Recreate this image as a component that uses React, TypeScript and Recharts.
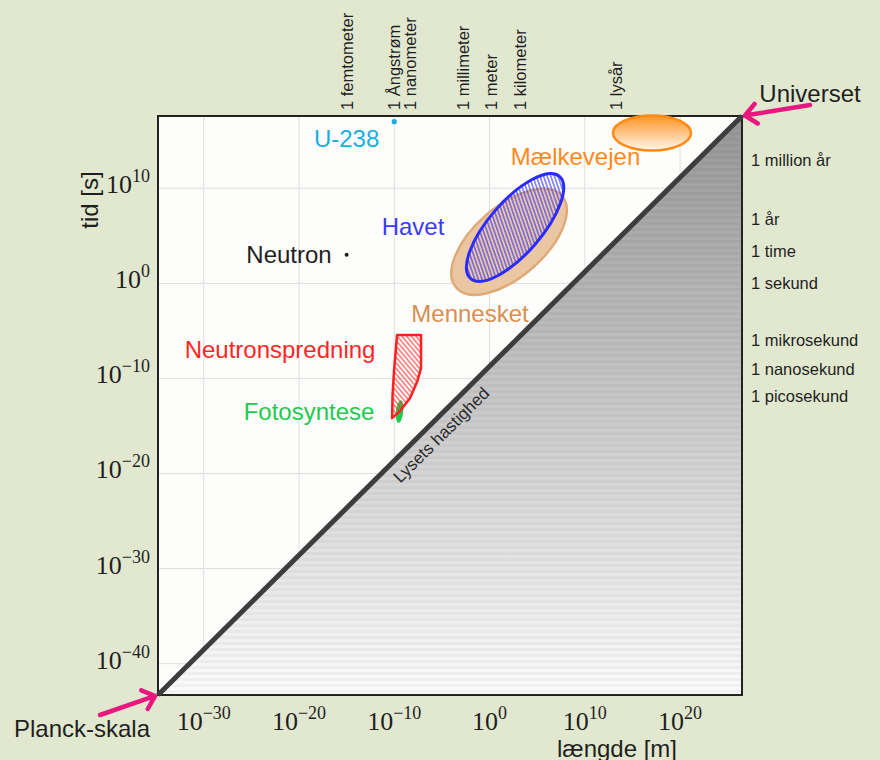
import { ComposedChart, XAxis, YAxis, CartesianGrid, Area, Line, Scatter, ReferenceArea } from 'recharts';

document.body.style.margin = '0';
document.body.style.background = '#e2e8cf';

const SANS = "'Liberation Sans', Arial, Helvetica, sans-serif";
const SERIF = "'Liberation Serif', 'Times New Roman', serif";
const INK = '#1f1f1f';

const W = 880;
const H = 760;
const MARGIN = { top: 16, right: 8, bottom: 25, left: 98 };
const LEFT_W = 60;
const RIGHT_W = 130;
const TOP_H = 100;
const BOTTOM_H = 40;

// log10 of length [m] and time [s]
const X_DOMAIN: [number, number] = [-34.8, 26.5];
const T_DOMAIN: [number, number] = [-43.3, 17.6];

const PLOT_W = W - MARGIN.left - MARGIN.right - LEFT_W - RIGHT_W;
const PLOT_H = H - MARGIN.top - MARGIN.bottom - TOP_H - BOTTOM_H;
const PX_X = PLOT_W / (X_DOMAIN[1] - X_DOMAIN[0]);
const PX_T = PLOT_H / (T_DOMAIN[1] - T_DOMAIN[0]);

const lengthTicks = [-30, -20, -10, 0, 10, 20];
const timeTicks = [-40, -30, -20, -10, 0, 10];

const lengthUnitValues = [-15, -10, -8.3, -2.8, 0.2, 3.2, 13.3];
const lengthUnitLabels = ['1 femtometer', '1 Ångstrøm', '1 nanometer', '1 millimeter', '1 meter', '1 kilometer', '1 lysår'];

const timeUnitValues = [13, 6.8, 3.45, 0, -6, -9, -11.9];
const timeUnitLabels = ['1 million år', '1 år', '1 time', '1 sekund', '1 mikrosekund', '1 nanosekund', '1 picosekund'];

const lightSpeed = [
  { x: -34.8, t: -43.3 },
  { x: 26.5, t: 17.6 },
];

const endpoints = [
  { name: 'Planck-skala', x: -34.8, t: -43.3 },
  { name: 'Universet', x: 26.5, t: 17.6 },
];

const pointObjects = [
  { name: 'U-238', x: -10, t: 17.0 },
  { name: 'Neutron', x: -15, t: 3.0 },
];

// centre, half-extent along the tilted axes (decades), tilt in degrees
const regionObjects = [
  { name: 'Mennesket', x: 2.05, t: 4.38, major: 7.35, minor: 3.7, tilt: 41 },
  { name: 'Havet', x: 2.68, t: 5.87, major: 7.1, minor: 2.75, tilt: 49 },
  { name: 'Mælkevejen', x: 17.05, t: 15.8, major: 4.1, minor: 1.84, tilt: 0 },
  { name: 'Fotosyntese', x: -9.44, t: -13.5, major: 1.2, minor: 0.38, tilt: 84 },
];

const neutronScattering = [
  { x: -9.71, t: -5.44 },
  { x: -7.19, t: -5.44 },
  { x: -7.19, t: -8.92 },
  { x: -7.61, t: -10.39 },
  { x: -8.34, t: -12.07 },
  { x: -9.39, t: -13.44 },
  { x: -10.23, t: -14.18 },
  { x: -10.18, t: -11.76 },
  { x: -10.02, t: -9.13 },
];

const objectLabels = [
  { name: 'U-238', x: -15.0, t: 15.26 },
  { name: 'Neutron', x: -21.05, t: 2.98 },
  { name: 'Havet', x: -8.03, t: 5.95 },
  { name: 'Mennesket', x: -2.05, t: -3.16 },
  { name: 'Mælkevejen', x: 9.03, t: 13.32 },
  { name: 'Neutronspredning', x: -21.99, t: -6.91 },
  { name: 'Fotosyntese', x: -18.95, t: -13.43 },
  { name: 'Lysets hastighed', x: -5.04, t: -15.96 },
];

const COLOR: Record<string, string> = {
  'U-238': '#1aaee5',
  Neutron: INK,
  Havet: '#3b3bff',
  Mennesket: '#d98f52',
  Mælkevejen: '#ff8a1c',
  Neutronspredning: '#ff2626',
  Fotosyntese: '#1fca4f',
  'Lysets hastighed': '#2a2a2a',
};

const REGION_STYLE: Record<string, any> = {
  Mennesket: { fill: '#ebc6a2', stroke: '#e0aa78', strokeWidth: 2.5 },
  Havet: { fill: 'url(#hatchBlue)', stroke: '#2b2bff', strokeWidth: 3 },
  Mælkevejen: { fill: 'url(#milky)', stroke: '#ff8a14', strokeWidth: 2.5 },
  Fotosyntese: { fill: '#1fca4f', stroke: 'none', strokeWidth: 0 },
};

const ARROW: Record<string, { tail: [number, number]; text: [number, number] }> = {
  'Planck-skala': { tail: [-58, 20], text: [-76, 33] },
  Universet: { tail: [68, -11], text: [68, -23] },
};

const power = (e: number) => (e === 0 ? '0' : (e < 0 ? '\u2212' : '') + Math.abs(e));

function LengthTick({ x, y, payload }: any) {
  return (
    <text x={x} y={y + 35} textAnchor="middle" fontFamily={SERIF} fontSize={26} fill={INK}>
      <tspan>10</tspan>
      <tspan dy={-11} fontSize={18}>{power(payload.value)}</tspan>
    </text>
  );
}

function TimeTick({ x, y, payload }: any) {
  return (
    <text x={x} y={y + 5} textAnchor="end" fontFamily={SERIF} fontSize={26} fill={INK}>
      <tspan>10</tspan>
      <tspan dy={-11} fontSize={18}>{power(payload.value)}</tspan>
    </text>
  );
}

function LengthUnitTick({ x, y, payload }: any) {
  const label = lengthUnitLabels[lengthUnitValues.indexOf(payload.value)];
  return (
    <text x={x} y={y} transform={`rotate(-90 ${x} ${y})`} dominantBaseline="central" fontFamily={SANS} fontSize={16.5} fill={INK}>
      {label}
    </text>
  );
}

function TimeUnitTick({ x, y, payload }: any) {
  const label = timeUnitLabels[timeUnitValues.indexOf(payload.value)];
  return (
    <text x={x} y={y} dominantBaseline="central" fontFamily={SANS} fontSize={16.5} fill={INK}>
      {label}
    </text>
  );
}

function XTitle({ viewBox }: any) {
  return (
    <text x={viewBox.x + 459} y={viewBox.y + 53} textAnchor="middle" dominantBaseline="central" fontFamily={SANS} fontSize={24} fill={INK}>
      længde [m]
    </text>
  );
}

function YTitle({ viewBox }: any) {
  const x = viewBox.x - 9;
  const y = viewBox.y + 84;
  return (
    <text x={x} y={y} transform={`rotate(-90 ${x} ${y})`} textAnchor="middle" dominantBaseline="central" fontFamily={SANS} fontSize={24} fill={INK}>
      tid [s]
    </text>
  );
}

function RegionShape({ cx, cy, payload }: any) {
  const st = REGION_STYLE[payload.name];
  return (
    <ellipse
      cx={cx}
      cy={cy}
      rx={payload.major * PX_X}
      ry={payload.minor * PX_T}
      transform={`rotate(${-payload.tilt} ${cx} ${cy})`}
      {...st}
    />
  );
}

function DotShape({ cx, cy, payload }: any) {
  return <circle cx={cx} cy={cy} r={payload.name === 'U-238' ? 2.6 : 2} fill={COLOR[payload.name]} />;
}

function LabelShape({ cx, cy, payload }: any) {
  const tilted = payload.name === 'Lysets hastighed';
  const angle = (-Math.atan2(PLOT_H, PLOT_W) * 180) / Math.PI;
  return (
    <text
      x={cx}
      y={cy}
      textAnchor="middle"
      dominantBaseline="central"
      transform={tilted ? `rotate(${angle} ${cx} ${cy})` : undefined}
      fontFamily={SANS}
      fontSize={tilted ? 17 : 24}
      fill={COLOR[payload.name]}
    >
      {payload.name}
    </text>
  );
}

function PolygonLine(props: any) {
  const pts = props.points || [];
  if (!pts.length) return <g />;
  const d = pts.map((p: any, i: number) => `${i ? 'L' : 'M'}${p.x},${p.y}`).join(' ') + ' Z';
  return <path d={d} fill="url(#hatchRed)" stroke="#ff2020" strokeWidth={2.5} strokeLinejoin="round" />;
}

function EndpointShape({ cx, cy, payload }: any) {
  const a = ARROW[payload.name];
  const len = Math.hypot(a.tail[0], a.tail[1]);
  const ux = a.tail[0] / len;
  const uy = a.tail[1] / len;
  const tx = cx + ux * 3;
  const ty = cy + uy * 3;
  const back = Math.atan2(uy, ux);
  const bl = 15;
  const b1 = back + 0.72;
  const b2 = back - 0.72;
  const d =
    `M${cx + a.tail[0]},${cy + a.tail[1]} L${tx},${ty} ` +
    `M${tx + Math.cos(b1) * bl},${ty + Math.sin(b1) * bl} L${tx},${ty} L${tx + Math.cos(b2) * bl},${ty + Math.sin(b2) * bl}`;
  return (
    <g>
      <path d={d} stroke="#e8187f" strokeWidth={4.5} fill="none" strokeLinecap="round" strokeLinejoin="round" />
      <text x={cx + a.text[0]} y={cy + a.text[1]} textAnchor="middle" dominantBaseline="central" fontFamily={SANS} fontSize={24} fill={INK}>
        {payload.name}
      </text>
    </g>
  );
}

const Empty = () => <g />;

export default function App() {
  return (
    <div style={{ width: W, height: H, background: '#e2e8cf' }}>
      <ComposedChart width={W} height={H} data={lightSpeed} margin={MARGIN}>
        <defs>
          <linearGradient id="shade" x1="0" y1="0" x2="0" y2="1">
            <stop offset="0" stopColor="#969696" />
            <stop offset="1" stopColor="#fbfbfb" />
          </linearGradient>
          <pattern id="bands" width="8" height="6" patternUnits="userSpaceOnUse">
            <rect width="8" height="3" fill="#000" fillOpacity="0.035" />
          </pattern>
          <linearGradient id="milky" x1="0" y1="0" x2="0" y2="1">
            <stop offset="0" stopColor="#ff9320" />
            <stop offset="1" stopColor="#fff8ee" />
          </linearGradient>
          <pattern id="hatchBlue" width="3.4" height="3.4" patternUnits="userSpaceOnUse" patternTransform="rotate(30)">
            <line x1="1.7" y1="0" x2="1.7" y2="3.4" stroke="#3030ff" strokeWidth="1" />
          </pattern>
          <pattern id="hatchRed" width="3.6" height="3.6" patternUnits="userSpaceOnUse" patternTransform="rotate(-40)">
            <line x1="1.8" y1="0" x2="1.8" y2="3.6" stroke="#ff2a2a" strokeWidth="1" />
          </pattern>
        </defs>

        <CartesianGrid stroke="#dedede" fill="#fdfdfc" />

        <XAxis
          dataKey="x"
          type="number"
          domain={X_DOMAIN}
          ticks={lengthTicks}
          interval={0}
          axisLine={false}
          tickLine={false}
          tickSize={0}
          tickMargin={0}
          height={BOTTOM_H}
          tick={<LengthTick />}
          label={<XTitle />}
        />
        <XAxis
          xAxisId="top"
          dataKey="x"
          orientation="top"
          type="number"
          domain={X_DOMAIN}
          ticks={lengthUnitValues}
          interval={0}
          axisLine={false}
          tickLine={false}
          tickSize={0}
          tickMargin={6}
          height={TOP_H}
          tick={<LengthUnitTick />}
        />
        <YAxis
          dataKey="t"
          type="number"
          domain={T_DOMAIN}
          ticks={timeTicks}
          interval={0}
          axisLine={false}
          tickLine={false}
          tickSize={0}
          tickMargin={8}
          width={LEFT_W}
          tick={<TimeTick />}
          label={<YTitle />}
        />
        <YAxis
          yAxisId="right"
          dataKey="t"
          orientation="right"
          type="number"
          domain={T_DOMAIN}
          ticks={timeUnitValues}
          interval={0}
          axisLine={false}
          tickLine={false}
          tickSize={0}
          tickMargin={9}
          width={RIGHT_W}
          tick={<TimeUnitTick />}
        />

        <Area dataKey="t" baseValue={T_DOMAIN[0]} fill="url(#shade)" fillOpacity={1} stroke="none" isAnimationActive={false} />
        <Area dataKey="t" baseValue={T_DOMAIN[0]} fill="url(#bands)" fillOpacity={1} stroke="none" isAnimationActive={false} />
        <Line dataKey="t" stroke="#3d3d3d" strokeWidth={5} dot={false} isAnimationActive={false} />

        <Scatter data={regionObjects} shape={<RegionShape />} isAnimationActive={false} />
        <Scatter data={neutronScattering} shape={<Empty />} line={PolygonLine} isAnimationActive={false} />
        <Scatter data={pointObjects} shape={<DotShape />} isAnimationActive={false} />
        <Scatter data={objectLabels} shape={<LabelShape />} isAnimationActive={false} />

        <ReferenceArea x1={X_DOMAIN[0]} x2={X_DOMAIN[1]} y1={T_DOMAIN[0]} y2={T_DOMAIN[1]} fill="none" stroke="#222" strokeWidth={2} />
        <Scatter data={endpoints} shape={<EndpointShape />} isAnimationActive={false} />
      </ComposedChart>
    </div>
  );
}
